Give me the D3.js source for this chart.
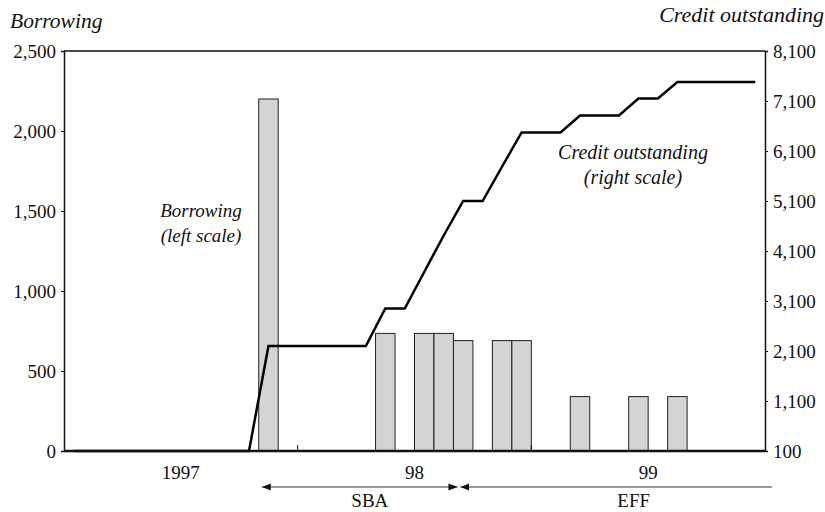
<!DOCTYPE html>
<html>
<head>
<meta charset="utf-8">
<script src="https://cdn.jsdelivr.net/npm/d3@7"></script>
<style>
  body { margin: 0; background: #fff; }
  svg text { font-family: "Liberation Serif", "DejaVu Serif", serif; fill: #111; }
</style>
</head>
<body>
<div id="chart"></div>
<script>
// monthly slots, Jan 1997 - Dec 1999
const months = [
  "1997-01","1997-02","1997-03","1997-04","1997-05","1997-06",
  "1997-07","1997-08","1997-09","1997-10","1997-11","1997-12",
  "1998-01","1998-02","1998-03","1998-04","1998-05","1998-06",
  "1998-07","1998-08","1998-09","1998-10","1998-11","1998-12",
  "1999-01","1999-02","1999-03","1999-04","1999-05","1999-06",
  "1999-07","1999-08","1999-09","1999-10","1999-11","1999-12"
];
// borrowing (left scale)
const borrowing = [
  0,0,0,0,0,0, 0,0,0,0,2200,0,
  0,0,0,0,735,0, 735,735,690,0,690,690,
  0,0,340,0,0,340, 0,340,0,0,0,0
];
// credit outstanding (right scale)
const credit = [
  100,100,100,100,100,100, 100,100,100,100,2200,2200,
  2200,2200,2200,2200,2950,2950, 3680,4410,5100,5100,5790,6470,
  6470,6470,6810,6810,6810,7150, 7150,7480,7480,7480,7480,7480
];
const years = [
  {label: "1997", from: "1997-01", to: "1997-12"},
  {label: "98", from: "1998-01", to: "1998-12"},
  {label: "99", from: "1999-01", to: "1999-12"}
];
const leftTicks = [0, 500, 1000, 1500, 2000, 2500];
const rightTicks = [100, 1100, 2100, 3100, 4100, 5100, 6100, 7100, 8100];

const W = 825, H = 512;
const mL = 64, mR = 765, mT = 51, mB = 451;

const svg = d3.select("#chart").append("svg")
  .attr("width", W).attr("height", H);

const x = d3.scaleBand().domain(months).range([mL, mR]).padding(0);
const yL = d3.scaleLinear().domain([0, 2500]).range([mB, mT]);
const yR = d3.scaleLinear().domain([100, 8100]).range([mB, mT]);
const bw = x.bandwidth();
const fmt = d3.format(",");

// frame top
svg.append("line")
  .attr("x1", mL).attr("x2", mR).attr("y1", mT).attr("y2", mT)
  .attr("stroke", "#111").attr("stroke-width", 1.5);

// bars
svg.selectAll("rect.bar")
  .data(months.map((m, i) => ({m, v: borrowing[i]})).filter(d => d.v > 0))
  .enter().append("rect")
  .attr("class", "bar")
  .attr("x", d => x(d.m))
  .attr("y", d => yL(d.v))
  .attr("width", bw)
  .attr("height", d => yL(0) - yL(d.v))
  .attr("fill", "#d3d4d6")
  .attr("stroke", "#222")
  .attr("stroke-width", 1);

// credit line
const line = d3.line()
  .x((d, i) => x(months[i]) + bw / 2)
  .y(d => yR(d));
svg.append("path")
  .datum(credit)
  .attr("d", line)
  .attr("fill", "none")
  .attr("stroke", "#000")
  .attr("stroke-width", 2.5)
  .attr("stroke-linejoin", "miter");

// axes
const axL = svg.append("g")
  .attr("transform", `translate(${mL},0)`)
  .call(d3.axisLeft(yL).tickValues(leftTicks).tickSize(3).tickPadding(5).tickFormat(fmt));
const axR = svg.append("g")
  .attr("transform", `translate(${mR},0)`)
  .call(d3.axisRight(yR).tickValues(rightTicks).tickSize(3).tickPadding(5).tickFormat(fmt));
[axL, axR].forEach(g => {
  g.select(".domain").attr("stroke", "#111").attr("stroke-width", 1.5);
  g.selectAll(".tick line").attr("stroke", "#111");
  g.selectAll("text").attr("font-size", 19)
    .attr("font-family", "Liberation Serif").attr("fill", "#111");
});

// bottom axis
svg.append("line")
  .attr("x1", mL).attr("x2", mR).attr("y1", mB).attr("y2", mB)
  .attr("stroke", "#111").attr("stroke-width", 2.5);

// year boundary ticks
svg.selectAll("line.ytick")
  .data(years.slice(1))
  .enter().append("line")
  .attr("x1", d => x(d.from)).attr("x2", d => x(d.from))
  .attr("y1", mB).attr("y2", mB - 6)
  .attr("stroke", "#111").attr("stroke-width", 1);

// year labels
svg.selectAll("text.year")
  .data(years)
  .enter().append("text")
  .attr("x", d => (x(d.from) + x(d.to) + bw) / 2)
  .attr("y", 479)
  .attr("text-anchor", "middle")
  .attr("font-size", 19)
  .text(d => d.label);

// program arrows
const defs = svg.append("defs");
defs.append("marker")
  .attr("id", "ah").attr("viewBox", "0 0 10 10")
  .attr("refX", 10).attr("refY", 5)
  .attr("markerWidth", 9).attr("markerHeight", 9)
  .attr("markerUnits", "userSpaceOnUse")
  .attr("orient", "auto-start-reverse")
  .append("path").attr("d", "M0,1 L10,5 L0,9 Z").attr("fill", "#111");

const arrowY = 487;
svg.append("line")
  .attr("x1", x("1997-11") + 3).attr("x2", x("1998-09") + 4)
  .attr("y1", arrowY).attr("y2", arrowY)
  .attr("stroke", "#777").attr("stroke-width", 1.3)
  .attr("marker-start", "url(#ah)").attr("marker-end", "url(#ah)");
svg.append("line")
  .attr("x1", x("1998-09") + 7).attr("x2", mR + 7)
  .attr("y1", arrowY).attr("y2", arrowY)
  .attr("stroke", "#777").attr("stroke-width", 1.3)
  .attr("marker-start", "url(#ah)");

svg.append("text")
  .attr("x", x("1998-04") + bw / 2 + 4).attr("y", 507)
  .attr("text-anchor", "middle").attr("font-size", 19).text("SBA");
svg.append("text")
  .attr("x", x("1999-06") + 5).attr("y", 507)
  .attr("text-anchor", "middle").attr("font-size", 19).text("EFF");

// axis titles
svg.append("text")
  .attr("x", 10).attr("y", 28)
  .attr("font-size", 21.5).attr("font-style", "italic").text("Borrowing");
svg.append("text")
  .attr("x", 824).attr("y", 22)
  .attr("text-anchor", "end")
  .attr("font-size", 22).attr("font-style", "italic").text("Credit outstanding");

// series annotations
const note1 = svg.append("text").attr("text-anchor", "middle")
  .attr("font-size", 19).attr("font-style", "italic");
note1.append("tspan").attr("x", 201).attr("y", 217).text("Borrowing");
note1.append("tspan").attr("x", 201).attr("y", 242).text("(left scale)");

const note2 = svg.append("text").attr("text-anchor", "middle")
  .attr("font-size", 20).attr("font-style", "italic");
note2.append("tspan").attr("x", 633).attr("y", 159).text("Credit outstanding");
note2.append("tspan").attr("x", 633).attr("y", 184).text("(right scale)");
</script>
</body>
</html>
